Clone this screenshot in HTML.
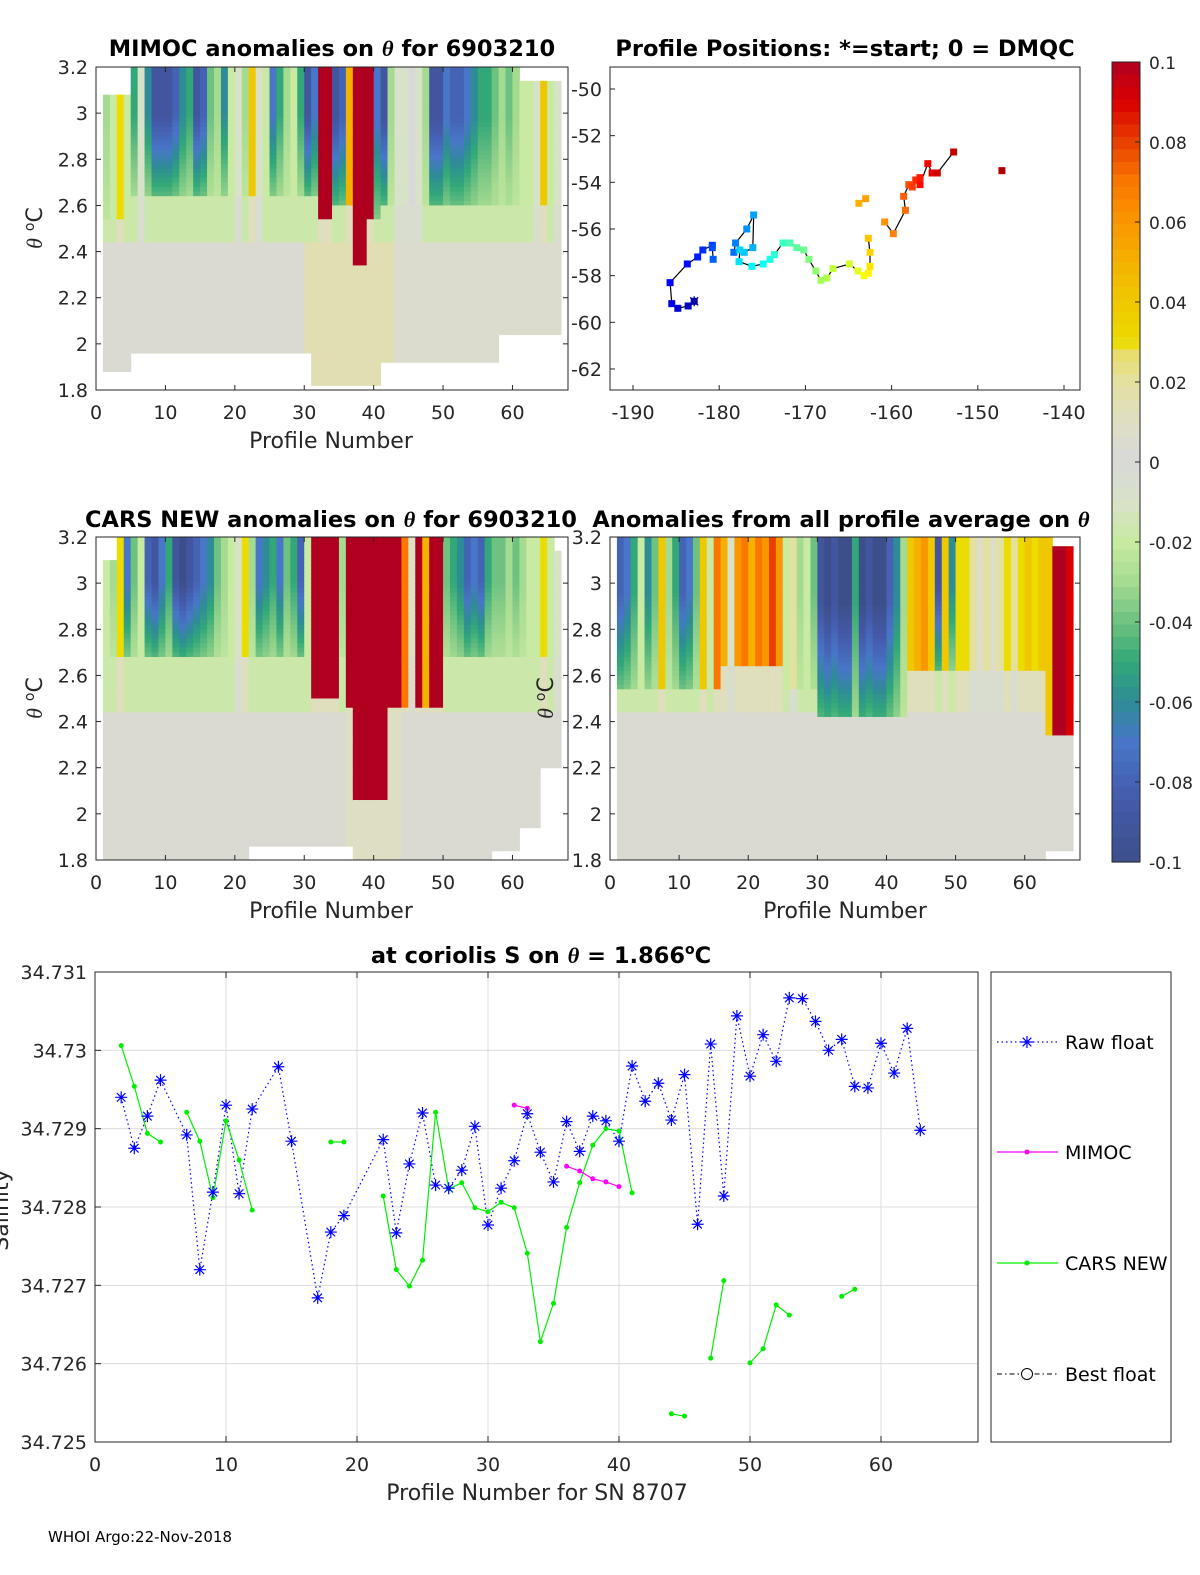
<!DOCTYPE html>
<html><head><meta charset="utf-8">
<style>
html,body{margin:0;padding:0;background:#fff;overflow:hidden;width:1200px;height:1575px;}
svg{display:block;font-family:"DejaVu Sans","Liberation Sans",sans-serif;}
</style></head>
<body>
<svg id="fig" width="1200" height="1575" viewBox="0 0 1200 1575" xmlns="http://www.w3.org/2000/svg">
<rect x="0" y="0" width="1200" height="1575" fill="#fff"/>
<g id="layer"></g>
</svg>
<script>
// ---------------- Bottom chart data ----------------
const profiles = [];
for (let i = 2; i <= 63; i++) profiles.push(i);
const rawFloat = [34.72940,34.72875,34.72916,34.72962,null,34.72892,34.72720,34.72819,34.72930,34.72817,34.72925,null,34.72979,34.72884,null,34.72684,34.72768,34.72789,null,null,34.72886,34.72767,34.72855,34.72920,34.72828,34.72824,34.72847,34.72903,34.72777,34.72824,34.72859,34.72919,34.72870,34.72832,34.72909,34.72871,34.72916,34.72910,34.72884,34.72980,34.72935,34.72958,34.72911,34.72969,34.72778,34.73008,34.72814,34.73044,34.72967,34.73020,34.72986,34.73067,34.73066,34.73037,34.73000,34.73014,34.72954,34.72952,34.73009,34.72971,34.73028,34.72898];
const carsNew = [34.73006,34.72954,34.72894,34.72883,null,34.72921,34.72884,34.72812,34.72910,34.72860,34.72796,null,null,null,null,null,34.72883,34.72883,null,null,34.72814,34.72720,34.72699,34.72732,34.72921,34.72823,34.72831,34.72799,34.72794,34.72806,34.72799,34.72741,34.72628,34.72677,34.72774,34.72831,34.72879,34.72900,34.72897,34.72818,null,null,34.72536,34.72533,null,34.72607,34.72706,null,34.72601,34.72619,34.72675,34.72662,null,null,null,34.72686,34.72695,null,null,null,null,null];
const mimoc = [null,null,null,null,null,null,null,null,null,null,null,null,null,null,null,null,null,null,null,null,null,null,null,null,null,null,null,null,null,null,34.72930,34.72926,null,null,34.72852,34.72846,34.72836,34.72832,34.72826,null,null,null,null,null,null,null,null,null,null,null,null,null,null,null,null,null,null,null,null,null,null,null];
const salTicks = [34.725,34.726,34.727,34.728,34.729,34.730,34.731];
const salTickLabels = ["34.725","34.726","34.727","34.728","34.729","34.73","34.731"];
const profTicks = [0,10,20,30,40,50,60];

// ---------------- Map data ----------------
const trackLon = [-182.9,-183.6,-184.8,-185.5,-185.7,-183.7,-182.5,-181.9,-180.8,-180.8,-180.7,-178.3,-178.1,-176.8,-176.0,-176.1,-177.1,-177.6,-177.7,-176.2,-174.9,-174.1,-173.6,-172.6,-171.8,-171.0,-170.2,-169.6,-168.8,-168.2,-167.5,-166.8,-164.9,-163.9,-163.2,-162.7,-162.5,-162.5,-162.7,-163.8,-163.0,-160.8,-159.8,-158.4,-158.6,-158.0,-157.6,-157.2,-156.7,-156.7,-155.8,-155.3,-154.7,-152.8,-147.2];
const trackLat = [-59.1,-59.3,-59.4,-59.2,-58.3,-57.5,-57.2,-56.9,-56.7,-56.8,-57.3,-57.0,-56.6,-56.0,-55.4,-56.8,-57.0,-56.9,-57.4,-57.6,-57.5,-57.3,-57.1,-56.6,-56.6,-56.8,-56.9,-57.3,-57.8,-58.2,-58.1,-57.7,-57.5,-57.8,-58.0,-57.9,-57.6,-57.0,-56.4,-54.9,-54.7,-55.7,-56.2,-55.2,-54.6,-54.1,-54.2,-53.9,-53.8,-54.1,-53.2,-53.6,-53.6,-52.7,-53.5];
const trackBreaks = [10,38,40,53];
const lonTicks = [-190,-180,-170,-160,-150,-140];
const latTicks = [-50,-52,-54,-56,-58,-60,-62];

// ---------------- Heatmap data (per profile column 0..67) ----------------
const thetaTicks = [1.8,2,2.2,2.4,2.6,2.8,3,3.2];
const thetaTickLabels = ["1.8","2","2.2","2.4","2.6","2.8","3","3.2"];
const mimocUpper = [null,-0.03,-0.02,0.03,-0.02,-0.05,-0.01,-0.06,-0.09,-0.09,-0.09,-0.08,-0.06,-0.05,-0.09,-0.08,-0.04,-0.03,-0.06,-0.02,-0.01,-0.03,0.04,-0.01,-0.02,-0.07,-0.05,-0.03,-0.02,-0.05,-0.09,-0.07,0.1,0.1,-0.09,-0.08,0.05,0.1,0.1,0.1,-0.07,-0.09,-0.03,-0.01,-0.01,0,-0.01,-0.03,-0.09,-0.09,-0.07,-0.08,-0.08,-0.07,-0.06,-0.05,-0.05,-0.04,-0.03,-0.04,-0.03,-0.02,-0.02,-0.01,0.04,-0.02,-0.01,null];
const mimocUpEndRuns = [[2.55,5],[2.65,27],[2.55,2],[2.6,3],[2.35,2],[2.55,2],[2.6,26],[2.55,1]];
const mimocLowRuns = [[0.003,30],[0.015,13],[0.005,25]];
const mimocBotRuns = [[9,1],[1.885,4],[1.96,26],[1.83,10],[1.93,17],[2.05,9],[9,1]];
const mimocTopRuns = [[3.08,5],[3.2,56],[3.14,6],[0,1]];

const carsUpper = [null,-0.02,-0.03,0.03,-0.07,-0.04,-0.02,-0.08,-0.09,-0.07,-0.05,-0.09,-0.1,-0.09,-0.08,-0.07,-0.06,-0.04,-0.03,-0.02,-0.01,0.03,-0.03,-0.07,-0.06,-0.05,-0.07,-0.04,-0.05,-0.08,-0.02,0.1,0.1,0.1,0.1,-0.03,0.1,0.1,0.1,0.1,0.1,0.1,0.1,0.1,0.07,-0.01,0.1,0.05,0.1,0.1,-0.04,-0.05,-0.06,-0.08,-0.07,-0.08,-0.05,-0.04,-0.04,-0.03,-0.04,-0.03,-0.02,-0.02,0.03,-0.02,-0.01,null];
const carsUpEndRuns = [[2.68,31],[2.5,4],[2.68,1],[2.47,1],[2.06,5],[2.47,3],[2.68,1],[2.47,4],[2.68,18]];
const carsLowRuns = [[0.003,36],[0.01,8],[0.003,24]];
const carsBotRuns = [[9,1],[1.8,21],[1.86,15],[1.8,20],[1.85,4],[1.95,3],[2.2,3],[9,1]];
const carsTopRuns = [[3.1,3],[3.2,63],[3.14,1],[0,1]];

const avgUpper = [null,-0.08,-0.07,-0.05,-0.02,-0.06,-0.04,0.04,-0.03,-0.05,-0.08,-0.07,-0.04,0.04,-0.02,0.07,0.05,-0.01,0.06,0.07,0.05,0.07,0.06,0.08,0.06,-0.02,0.02,-0.03,-0.02,-0.04,-0.09,-0.1,-0.09,-0.1,-0.1,-0.05,-0.1,-0.09,-0.1,-0.1,-0.08,-0.06,-0.03,0.04,0.05,0.06,0.04,-0.09,0.04,-0.06,0.03,0.03,0.02,0.01,0.02,0.01,0.02,0.03,0.02,0.03,0.04,0.03,0.04,0.04,0.1,0.1,0.09,null];
const avgUpEndRuns = [[2.55,16],[2.65,9],[2.55,5],[2.42,13],[2.62,20],[2.35,4],[2.6,1]];
const avgLowRuns = [[0.003,68]];
const avgBotRuns = [[9,1],[1.8,62],[1.85,4],[9,1]];
const avgTopRuns = [[0,1],[3.2,63],[3.17,3],[0,1]];

const cbTicks = [-0.1,-0.08,-0.06,-0.04,-0.02,0,0.02,0.04,0.06,0.08,0.1];
const cbTickLabels = ["-0.1","-0.08","-0.06","-0.04","-0.02","0","0.02","0.04","0.06","0.08","0.1"];

// ---------------- helpers ----------------
const NS = "http://www.w3.org/2000/svg";
const layer = document.getElementById('layer');
function mk(tag, attrs, parent) {
  const e = document.createElementNS(NS, tag);
  for (const k in attrs) e.setAttribute(k, attrs[k]);
  (parent || layer).appendChild(e);
  return e;
}
function txt(x, y, s, size, anchor, parent, weight) {
  const t = mk('text', {x: x, y: y, 'font-size': size, 'text-anchor': anchor || 'middle', fill: '#262626'}, parent);
  if (weight) { t.setAttribute('font-weight', weight); t.setAttribute('fill', '#000'); }
  t.textContent = s;
  return t;
}
function expand(runs) { const o = []; runs.forEach(r => { for (let i = 0; i < r[1]; i++) o.push(r[0]); }); return o; }

const cmapStops = [
  [-0.1,[61,79,138]],[-0.085,[68,90,170]],[-0.07,[72,118,200]],[-0.06,[46,140,150]],[-0.05,[50,168,120]],
  [-0.04,[110,194,128]],[-0.03,[165,218,145]],[-0.02,[200,234,162]],[-0.01,[216,226,200]],[0,[216,216,216]],
  [0.01,[222,222,196]],[0.02,[228,224,160]],[0.028,[232,222,100]],[0.03,[236,220,0]],[0.045,[242,190,0]],
  [0.06,[250,150,0]],[0.07,[250,120,0]],[0.08,[232,64,0]],[0.09,[218,0,0]],[0.1,[176,0,32]]];
function cmap(v) {
  v = Math.max(-0.1, Math.min(0.1, v));
  for (let i = 0; i < cmapStops.length - 1; i++) {
    const a = cmapStops[i], b = cmapStops[i + 1];
    if (v >= a[0] && v <= b[0]) {
      const t = (v - a[0]) / (b[0] - a[0] || 1);
      const c = a[1].map((x, j) => Math.round(x + (b[1][j] - x) * t));
      return `rgb(${c[0]},${c[1]},${c[2]})`;
    }
  }
  return 'rgb(216,216,216)';
}
function jet(t) {
  const r = Math.max(0, Math.min(1, 1.5 - Math.abs(4 * t - 3)));
  const g = Math.max(0, Math.min(1, 1.5 - Math.abs(4 * t - 2)));
  const b = Math.max(0, Math.min(1, 1.5 - Math.abs(4 * t - 1)));
  return `rgb(${Math.round(r * 255)},${Math.round(g * 255)},${Math.round(b * 255)})`;
}

// ---------------- heatmap panels ----------------
function heatPanel(name, x0, x1, y0, y1, upper, upEndRuns, lowRuns, botRuns, topRuns) {
  const g = mk('g', {});
  
  
  const xs = c => x0 + (c / 68) * (x1 - x0);
  const ys = th => y1 - (th - 1.8) / 1.4 * (y1 - y0);
  const upEnd = expand(upEndRuns), low = expand(lowRuns), bot = expand(botRuns), top = expand(topRuns);
  const rowH = 0.02;
  for (let c = 0; c < 68; c++) {
    if (upper[c] === null) continue;
    for (let r = 0; r < 70; r++) {
      const thTop = 3.2 - r * rowH, thC = thTop - rowH / 2;
      if (thC > top[c] || thC < bot[c]) continue;
      let v;
      if (thC >= upEnd[c]) {
        const f = Math.min(1, 1.6 * (thC - upEnd[c]) / Math.max(0.05, 3.2 - upEnd[c]));
        v = upper[c] < -0.02 ? -0.02 + (upper[c] + 0.02) * (0.35 + 0.65 * f) : upper[c];
      }
      else if (thC >= 2.45) v = upper[c] < -0.015 ? -0.018 : (upper[c] > 0.02 ? 0.012 : -0.005);
      else v = low[c];
      const cell = mk('rect', {x: xs(c).toFixed(2), y: ys(thTop).toFixed(2), width: ((x1 - x0) / 68 + 0.5).toFixed(2), height: ((y1 - y0) / 70 + 0.5).toFixed(2), fill: cmap(v)}, g);
      
      
    }
  }
  const box = mk('rect', {x: x0, y: y0, width: x1 - x0, height: y1 - y0, fill: 'none', stroke: '#262626', 'stroke-width': 1}, g);
  
  
  profTicks.forEach(p => {
    const x = xs(p);
    mk('line', {x1: x, y1: y1, x2: x, y2: y1 - 5, stroke: '#262626'}, g);
    mk('line', {x1: x, y1: y0, x2: x, y2: y0 + 5, stroke: '#262626'}, g);
    const t = txt(x, y1 + 29, String(p), 19, 'middle', g);
    
    
  });
  thetaTicks.forEach((th, i) => {
    const y = ys(th);
    mk('line', {x1: x0, y1: y, x2: x0 + 5, y2: y, stroke: '#262626'}, g);
    mk('line', {x1: x1, y1: y, x2: x1 - 5, y2: y, stroke: '#262626'}, g);
    const t = txt(x0 - 8, y + 7, thetaTickLabels[i], 19, 'end', g);
    
    
  });
  return g;
}
heatPanel('mimoc-anomaly-heatmap', 96, 568, 67, 390, mimocUpper, mimocUpEndRuns, mimocLowRuns, mimocBotRuns, mimocTopRuns);
heatPanel('cars-anomaly-heatmap', 96, 568, 537, 860, carsUpper, carsUpEndRuns, carsLowRuns, carsBotRuns, carsTopRuns);
heatPanel('average-anomaly-heatmap', 610, 1080, 537, 860, avgUpper, avgUpEndRuns, avgLowRuns, avgBotRuns, avgTopRuns);

// ---------------- map ----------------
(function () {
  const g = mk('g', {});
  
  
  const x0 = 610, x1 = 1080, y0 = 67, y1 = 390;
  const lx = lon => 633 + (lon + 190) * 8.62;
  const ly = lat => 89 + (-50 - lat) * 23.33;
  const box = mk('rect', {x: x0, y: y0, width: x1 - x0, height: y1 - y0, fill: 'none', stroke: '#262626'}, g);
  
  
  lonTicks.forEach(l => {
    const x = lx(l);
    mk('line', {x1: x, y1: y1, x2: x, y2: y1 - 5, stroke: '#262626'}, g);
    const t = txt(x, y1 + 29, String(l), 19, 'middle', g);
    
    
  });
  latTicks.forEach(l => {
    const y = ly(l);
    mk('line', {x1: x0, y1: y, x2: x0 + 5, y2: y, stroke: '#262626'}, g);
    const t = txt(x0 - 8, y + 7, String(l), 19, 'end', g);
    
    
  });
  let d = '';
  for (let i = 0; i < trackLon.length; i++) {
    const cmd = (i === 0 || trackBreaks.includes(i - 1)) ? 'M' : 'L';
    d += cmd + lx(trackLon[i]).toFixed(1) + ' ' + ly(trackLat[i]).toFixed(1) + ' ';
  }
  const path = mk('path', {d: d, fill: 'none', stroke: '#000', 'stroke-width': 1.2}, g);
  
  
  const n = trackLon.length;
  for (let i = 0; i < n; i++) {
    const t = 0.05 + 0.9 * i / (n - 1);
    const sq = mk('rect', {x: lx(trackLon[i]) - 3.5, y: ly(trackLat[i]) - 3.5, width: 7, height: 7, fill: jet(t)}, g);
    
    
  }
  const sx = lx(trackLon[0]), sy = ly(trackLat[0]);
  const st = mk('path', {d: `M${sx - 4} ${sy - 4}L${sx + 4} ${sy + 4}M${sx - 4} ${sy + 4}L${sx + 4} ${sy - 4}M${sx} ${sy - 5}L${sx} ${sy + 5}`, stroke: '#0000a0', 'stroke-width': 1.3}, g);
  
  
})();

// ---------------- colorbar ----------------
(function () {
  const g = mk('g', {});
  
  
  const x0 = 1112, x1 = 1140, y0 = 62, y1 = 862;
  const steps = 64;
  for (let i = 0; i < steps; i++) {
    const v = 0.1 - (i + 0.5) * 0.2 / steps;
    mk('rect', {x: x0, y: y0 + i * (y1 - y0) / steps, width: x1 - x0, height: (y1 - y0) / steps + 0.6, fill: cmap(v)}, g);
  }
  mk('rect', {x: x0, y: y0, width: x1 - x0, height: y1 - y0, fill: 'none', stroke: '#262626'}, g);
  cbTicks.forEach((v, i) => {
    const y = y1 - (v + 0.1) / 0.2 * (y1 - y0);
    mk('line', {x1: x1, y1: y, x2: x1 - 5, y2: y, stroke: '#262626'}, g);
    const t = txt(x1 + 9, y + 7, cbTickLabels[i], 17, 'start', g);
    
    
  });
})();

// ---------------- bottom salinity chart ----------------
(function () {
  const g = mk('g', {});
  
  
  const x0 = 95, x1 = 978, y0 = 972, y1 = 1442;
  const xs = p => x0 + p * 13.1;
  const ys = v => y1 - (v - 34.725) / 0.006 * (y1 - y0);
  profTicks.forEach(p => {
    const x = xs(p);
    mk('line', {x1: x, y1: y0, x2: x, y2: y1, stroke: '#dcdcdc'}, g);
    mk('line', {x1: x, y1: y1, x2: x, y2: y1 - 6, stroke: '#262626'}, g);
    mk('line', {x1: x, y1: y0, x2: x, y2: y0 + 6, stroke: '#262626'}, g);
    const t = txt(x, y1 + 29, String(p), 19, 'middle', g);
    
    
  });
  salTicks.forEach((v, i) => {
    const y = ys(v);
    mk('line', {x1: x0, y1: y, x2: x1, y2: y, stroke: '#dcdcdc'}, g);
    mk('line', {x1: x0, y1: y, x2: x0 + 6, y2: y, stroke: '#262626'}, g);
    const t = txt(x0 - 8, y + 7, salTickLabels[i], 19, 'end', g);
    
    
  });
  mk('rect', {x: x0, y: y0, width: x1 - x0, height: y1 - y0, fill: 'none', stroke: '#262626'}, g);
  function line(vals, color, dash, name) {
    let d = '', pen = false;
    vals.forEach((v, i) => {
      if (v === null) { pen = false; return; }
      d += (pen ? 'L' : 'M') + xs(profiles[i]).toFixed(1) + ' ' + ys(v).toFixed(1) + ' ';
      pen = true;
    });
    const p = mk('path', {d: d, fill: 'none', stroke: color, 'stroke-width': 1.2}, g);
    if (dash) p.setAttribute('stroke-dasharray', dash);
    
    
  }
  const rawX = [], rawY = [];
  rawFloat.forEach((v, i) => { if (v !== null) { rawX.push(xs(profiles[i])); rawY.push(ys(v)); } });
  const rp = mk('polyline', {points: rawX.map((x, i) => x.toFixed(1) + ',' + rawY[i].toFixed(1)).join(' '), fill: 'none', stroke: '#0000ff', 'stroke-width': 1.2, 'stroke-dasharray': '1.5 3'}, g);
  
  
  line(carsNew, '#00ee00', null, 'cars-new-line');
  line(mimoc, '#ff00ff', null, 'mimoc-line');
  carsNew.forEach((v, i) => {
    if (v === null) return;
    const c = mk('circle', {cx: xs(profiles[i]), cy: ys(v), r: 2.5, fill: '#00ee00'}, g);
    
    
  });
  mimoc.forEach((v, i) => {
    if (v === null) return;
    const c = mk('circle', {cx: xs(profiles[i]), cy: ys(v), r: 2.5, fill: '#ff00ff'}, g);
    
    
  });
  rawFloat.forEach((v, i) => {
    if (v === null) return;
    const x = xs(profiles[i]), y = ys(v), s = 6;
    const m = mk('path', {d: `M${x - s} ${y}H${x + s}M${x} ${y - s}V${y + s}M${x - 4.3} ${y - 4.3}L${x + 4.3} ${y + 4.3}M${x - 4.3} ${y + 4.3}L${x + 4.3} ${y - 4.3}`, stroke: '#0000ff', 'stroke-width': 1.2}, g);
    
    
  });
})();
</script>
<svg style="position:absolute;left:0;top:0" width="1200" height="1575" xmlns="http://www.w3.org/2000/svg">
<g font-family="DejaVu Sans, Liberation Sans, sans-serif">
<text x="332" y="56" font-size="22.5" font-weight="bold" text-anchor="middle">MIMOC anomalies on <tspan font-style="italic" font-family="Liberation Serif, serif">θ</tspan>  for 6903210</text>
<text x="845" y="56" font-size="22.5" font-weight="bold" text-anchor="middle">Profile Positions: *=start; 0 = DMQC</text>
<text x="331" y="527" font-size="22.5" font-weight="bold" text-anchor="middle">CARS NEW anomalies on <tspan font-style="italic" font-family="Liberation Serif, serif">θ</tspan> for 6903210</text>
<text x="841" y="527" font-size="22.5" font-weight="bold" text-anchor="middle">Anomalies from all profile average on <tspan font-style="italic" font-family="Liberation Serif, serif">θ</tspan></text>
<text x="541" y="963" font-size="22.5" font-weight="bold" text-anchor="middle">at coriolis S on <tspan font-style="italic" font-family="Liberation Serif, serif">θ</tspan> = 1.866<tspan font-size="14" dy="-9">o</tspan><tspan dy="9">C</tspan></text>
<text x="331" y="448" font-size="22" text-anchor="middle" fill="#262626">Profile Number</text>
<text x="331" y="918" font-size="22" text-anchor="middle" fill="#262626">Profile Number</text>
<text x="845" y="918" font-size="22" text-anchor="middle" fill="#262626">Profile Number</text>
<text x="537" y="1500" font-size="22" text-anchor="middle" fill="#262626">Profile Number for SN 8707</text>
<text transform="translate(42,228) rotate(-90)" font-size="22" text-anchor="middle" fill="#262626"><tspan font-style="italic" font-family="Liberation Serif, serif">θ</tspan> <tspan font-size="14" dy="-8">o</tspan><tspan dy="8">C</tspan></text>
<text transform="translate(42,698) rotate(-90)" font-size="22" text-anchor="middle" fill="#262626"><tspan font-style="italic" font-family="Liberation Serif, serif">θ</tspan> <tspan font-size="14" dy="-8">o</tspan><tspan dy="8">C</tspan></text>
<text transform="translate(553,698) rotate(-90)" font-size="22" text-anchor="middle" fill="#262626"><tspan font-style="italic" font-family="Liberation Serif, serif">θ</tspan> <tspan font-size="14" dy="-8">o</tspan><tspan dy="8">C</tspan></text>
<text transform="translate(8,1210) rotate(-90)" font-size="22" text-anchor="middle" fill="#262626">Salinity</text>
<text x="48" y="1542" font-size="15" fill="#000">WHOI Argo:22-Nov-2018</text>
<g>
<rect x="991" y="972" width="180" height="470" fill="#fff" stroke="#262626"/>
<g>
<line x1="997" y1="1042" x2="1058" y2="1042" stroke="#0000ff" stroke-dasharray="1.5 3" stroke-width="1.2"/>
<path d="M1021 1042H1033M1027 1036V1048M1022.7 1037.7L1031.3 1046.3M1022.7 1046.3L1031.3 1037.7" stroke="#0000ff" stroke-width="1.2"/>
<text x="1065" y="1049" font-size="19" fill="#000">Raw float</text></g>
<g>
<line x1="997" y1="1152" x2="1058" y2="1152" stroke="#ff00ff" stroke-width="1.2"/>
<circle cx="1027" cy="1152" r="2.5" fill="#ff00ff"/>
<text x="1065" y="1159" font-size="19" fill="#000">MIMOC</text></g>
<g>
<line x1="997" y1="1263" x2="1058" y2="1263" stroke="#00ee00" stroke-width="1.2"/>
<circle cx="1027" cy="1263" r="2.5" fill="#00ee00"/>
<text x="1065" y="1270" font-size="19" fill="#000">CARS NEW</text></g>
<g>
<line x1="997" y1="1374" x2="1058" y2="1374" stroke="#000" stroke-dasharray="5 3 1.5 3" stroke-width="1"/>
<circle cx="1027" cy="1374" r="5.5" fill="#fff" stroke="#000"/>
<text x="1065" y="1381" font-size="19" fill="#000">Best float</text></g>
</g>
</g>
</svg>
</body></html>
